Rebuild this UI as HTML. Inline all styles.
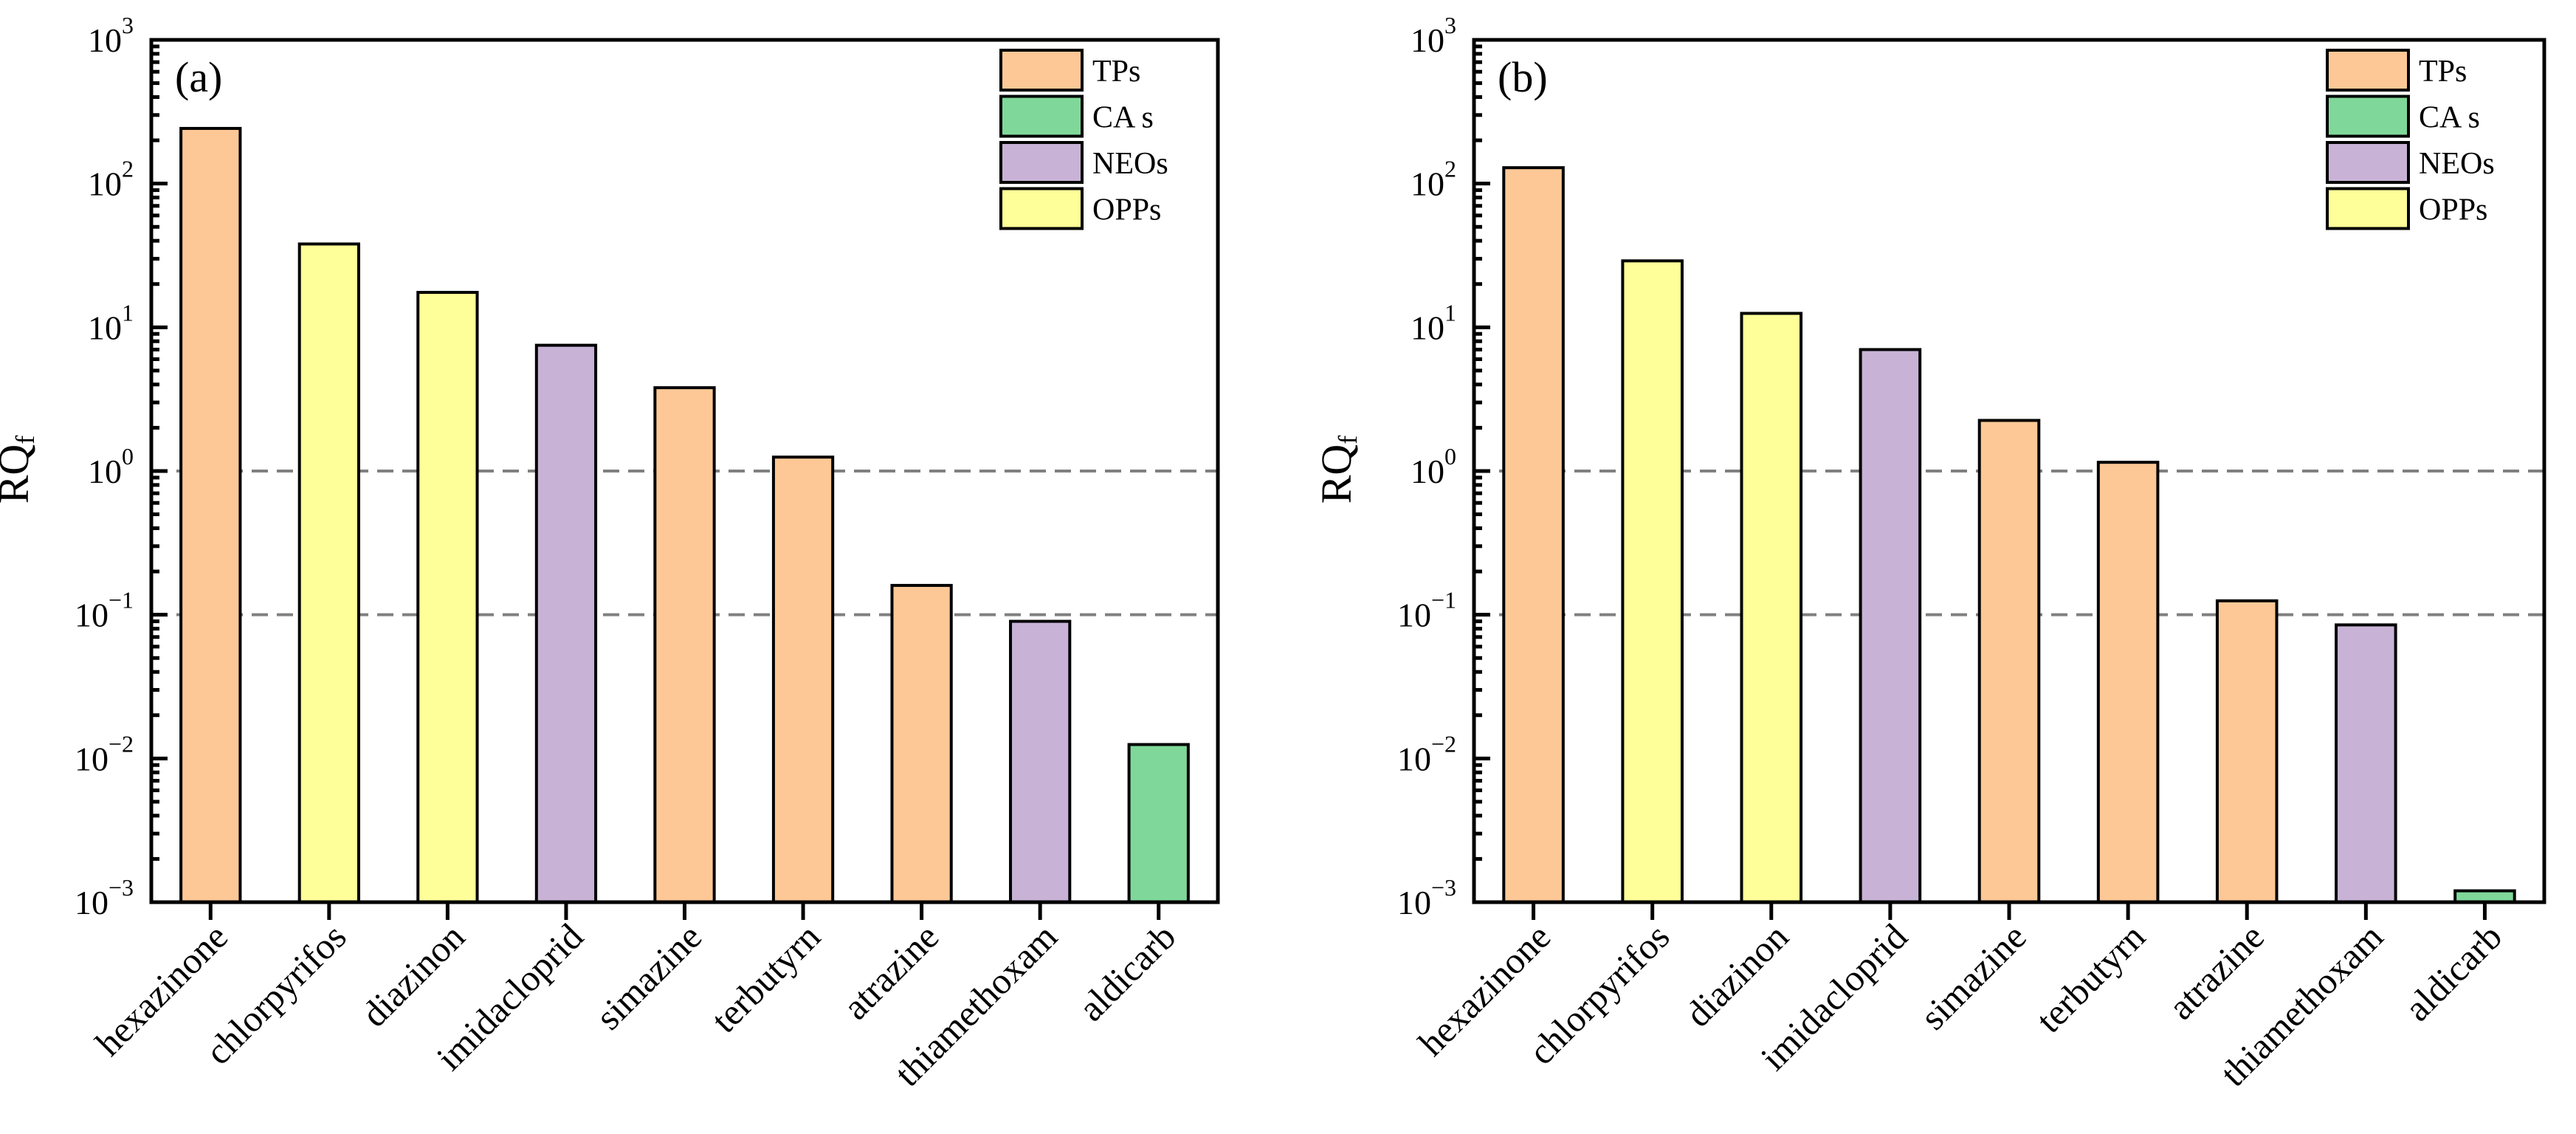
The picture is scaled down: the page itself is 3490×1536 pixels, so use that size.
<!DOCTYPE html>
<html><head><meta charset="utf-8"><style>
html,body{margin:0;padding:0;background:#fff;}
svg{display:block;font-family:"Liberation Serif",serif;}
</style></head><body>
<svg id="chart" width="3490" height="1536" viewBox="0 0 3490 1536" xmlns="http://www.w3.org/2000/svg"></svg>
<script>
const categories = ["hexazinone","chlorpyrifos","diazinon","imidacloprid","simazine","terbutyrn","atrazine","thiamethoxam","aldicarb"];
const groups = ["TPs","OPPs","OPPs","NEOs","TPs","TPs","TPs","NEOs","CAs"];
const valuesA = [242, 38, 17.5, 7.5, 3.8, 1.25, 0.16, 0.09, 0.0125];
const valuesB = [129, 29, 12.5, 7, 2.25, 1.15, 0.125, 0.085, 0.0012];
const legendGroups = ["TPs","CAs","NEOs","OPPs"];
const legendLabels = ["TPs","CA s","NEOs","OPPs"];
const decadeExps = [3,2,1,0,-1,-2,-3];
const thresholds = [1, 0.1];

const colors = {TPs:"#FDC896", CAs:"#7FD899", NEOs:"#C8B3D6", OPPs:"#FFFF99"};
const NS = "http://www.w3.org/2000/svg";
const svg = document.getElementById('chart');
function mk(tag, attrs, parent){
  const e = document.createElementNS(NS, tag);
  for (const k in attrs) e.setAttribute(k, attrs[k]);
  (parent||svg).appendChild(e);
  return e;
}

function drawPanel(x0, x1, values, tag, labelX){
  const y0 = 54, y1 = 1222;
  const g = mk('g', {});
  
  
  const yScale = v => y0 + (3 - Math.log10(v)) * (y1 - y0) / 6;
  const step = (x1 - x0) / categories.length;
  const xScale = i => x0 + step * (i + 0.5);
  const bw = step * 0.5;

  thresholds.forEach(t => {
    const l = mk('line', {x1:x0, x2:x1, y1:yScale(t), y2:yScale(t), stroke:'#808080', 'stroke-width':4, 'stroke-dasharray':'22 12'}, g);
    
    
  });

  values.forEach((v, i) => {
    const y = yScale(v);
    const r = mk('rect', {x:xScale(i)-bw/2, y:y, width:bw, height:y1-y, fill:colors[groups[i]], stroke:'#000', 'stroke-width':4}, g);
    
    
  });

  const fr = mk('rect', {x:x0, y:y0, width:x1-x0, height:y1-y0, fill:'none', stroke:'#000', 'stroke-width':5}, g);
  
  

  decadeExps.forEach(e => {
    const y = yScale(Math.pow(10, e));
    mk('line', {x1:x0, x2:x0+22, y1:y, y2:y, stroke:'#000', 'stroke-width':5}, g);
    const t = mk('text', {x:x0-24, y:y+16, 'text-anchor':'end', 'font-size':46}, g);
    
    
    t.textContent = '10';
    const s = mk('tspan', {dy:-25, 'font-size':32}, t);
    s.textContent = e < 0 ? '\u2212' + (-e) : String(e);
    if (e > -3) {
      for (let m = 2; m <= 9; m++) {
        const ym = yScale(m * Math.pow(10, e - 1));
        mk('line', {x1:x0, x2:x0+11, y1:ym, y2:ym, stroke:'#000', 'stroke-width':5}, g);
      }
    }
  });

  categories.forEach((c, i) => {
    const x = xScale(i);
    mk('line', {x1:x, x2:x, y1:y1, y2:y1+24, stroke:'#000', 'stroke-width':5}, g);
    const t = mk('text', {x:x+26, y:1272, 'text-anchor':'end', 'font-size':50, transform:`rotate(-45 ${x+26} 1272)`}, g);
    
    
    t.textContent = c;
  });

  const yt = mk('text', {x:labelX, y:636, 'text-anchor':'middle', 'font-size':58, transform:`rotate(-90 ${labelX} 636)`}, g);
  
  
  yt.textContent = 'RQ';
  const sub = mk('tspan', {dy:8, 'font-size':36}, yt);
  sub.textContent = 'f';

  const pl = mk('text', {x:x0+32, y:124, 'font-size':58}, g);
  
  
  pl.textContent = '(' + tag + ')';

  const lx = x1 - 294;
  legendGroups.forEach((lg, k) => {
    const ly = 68 + k * 62.5;
    const sw = mk('rect', {x:lx, y:ly, width:110, height:54, fill:colors[lg], stroke:'#000', 'stroke-width':4}, g);
    
    
    const lt = mk('text', {x:lx+124, y:ly+42, 'font-size':42}, g);
    
    
    lt.textContent = legendLabels[k];
  });
}

drawPanel(205, 1650, valuesA, 'a', 38);
drawPanel(1997, 3447, valuesB, 'b', 1830);
</script>
</body></html>
